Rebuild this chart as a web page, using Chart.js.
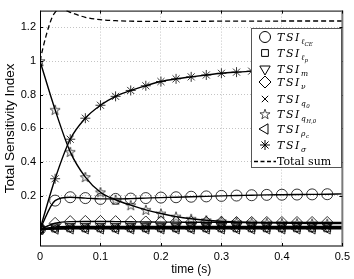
<!DOCTYPE html>
<html>
<head>
<meta charset="utf-8">
<script src="https://cdn.jsdelivr.net/npm/chart.js@4/dist/chart.umd.min.js"></script>
<style>
  html, body { margin: 0; padding: 0; background: #fff; }
  #wrap { width: 354px; height: 279px; }
</style>
</head>
<body>
<div id="wrap"><canvas id="tsiChart"></canvas></div>
<script>
// time samples (markers every 0.025 s)
var timeValues = [0, 0.025, 0.05, 0.075, 0.1, 0.125, 0.15, 0.175, 0.2, 0.225, 0.25,
  0.275, 0.3, 0.325, 0.35, 0.375, 0.4, 0.425, 0.45, 0.475, 0.5];

var tsiLce = [0, 0.17, 0.19, 0.185, 0.18, 0.18, 0.182, 0.185, 0.188, 0.19, 0.193,
  0.195, 0.198, 0.2, 0.202, 0.204, 0.205, 0.206, 0.207, 0.208, 0.21];
var tsiLp = [0, 0.004, 0.005, 0.005, 0.005, 0.005, 0.005, 0.005, 0.005, 0.005, 0.005,
  0.005, 0.005, 0.005, 0.005, 0.005, 0.005, 0.005, 0.005, 0.005, 0.005];
var tsiM = [0, 0.014, 0.016, 0.016, 0.016, 0.016, 0.016, 0.016, 0.016, 0.016, 0.016,
  0.016, 0.016, 0.016, 0.016, 0.016, 0.016, 0.016, 0.016, 0.016, 0.016];
var tsiNu = [0, 0.035, 0.045, 0.046, 0.046, 0.045, 0.044, 0.043, 0.042, 0.042, 0.041,
  0.041, 0.041, 0.04, 0.04, 0.04, 0.04, 0.04, 0.04, 0.04, 0.04];
var tsiQ0 = [0, 0.008, 0.01, 0.01, 0.01, 0.01, 0.01, 0.01, 0.01, 0.01, 0.01,
  0.01, 0.01, 0.01, 0.01, 0.01, 0.01, 0.01, 0.01, 0.01, 0.01];
var tsiQh0 = [1.0, 0.71, 0.46, 0.31, 0.22, 0.175, 0.143, 0.115, 0.093, 0.075, 0.062,
  0.053, 0.047, 0.043, 0.04, 0.038, 0.036, 0.035, 0.034, 0.033, 0.033];
var tsiRhoc = [0, 0.001, 0.002, 0.002, 0.002, 0.002, 0.002, 0.002, 0.002, 0.002, 0.002,
  0.002, 0.002, 0.002, 0.002, 0.002, 0.002, 0.002, 0.002, 0.002, 0.002];
var tsiSigma = [0, 0.3, 0.535, 0.66, 0.737, 0.79, 0.825, 0.853, 0.878, 0.894, 0.906,
  0.917, 0.927, 0.934, 0.94, 0.944, 0.948, 0.951, 0.953, 0.955, 0.957];

// total sum is sampled finer
var totalTime = [0, 0.005, 0.01, 0.015, 0.02, 0.025, 0.03, 0.035, 0.04, 0.05, 0.06,
  0.075, 0.1, 0.125, 0.15, 0.2, 0.25, 0.3, 0.35, 0.4, 0.45, 0.5];
var totalSum = [1.0, 1.08, 1.15, 1.21, 1.26, 1.29, 1.305, 1.31, 1.305, 1.29, 1.277,
  1.26, 1.246, 1.24, 1.237, 1.236, 1.236, 1.237, 1.237, 1.238, 1.238, 1.238];

var xTicks = [0, 0.1, 0.2, 0.3, 0.4, 0.5];
var yTicks = [0.2, 0.4, 0.6, 0.8, 1, 1.2];

// legend subscripts: [subscript, sub-subscript]
var legendSubs = [["\u2113", "CE"], ["\u2113", "p"], ["m"], ["\u03bd"], ["q", "0"],
  ["q", "H,0"], ["\u03c1", "c"], ["\u03c3"]];

// five-point star marker, drawn once into a small canvas
function makeStar(size) {
  var c = document.createElement("canvas");
  c.width = size; c.height = size;
  var g = c.getContext("2d");
  var cx = size / 2, cy = size / 2 + 0.5, R = size / 2 - 0.7, r = R * 0.4;
  g.beginPath();
  for (var i = 0; i < 10; i++) {
    var a = -Math.PI / 2 + i * Math.PI / 5;
    var rr = i % 2 ? r : R;
    g.lineTo(cx + rr * Math.cos(a), cy + rr * Math.sin(a));
  }
  g.closePath();
  g.lineWidth = 0.7;
  g.strokeStyle = "#000";
  g.stroke();
  return c;
}
var starImg = makeStar(12);

var seriesValues = [tsiLce, tsiLp, tsiM, tsiNu, tsiQ0, tsiQh0, tsiRhoc, tsiSigma];
var markers = [
  { style: "circle", r: 5.5, rot: 0 },
  { style: "rect", r: 4.8, rot: 0 },
  { style: "triangle", r: 6, rot: 180 },
  { style: "rectRot", r: 6, rot: 0 },
  { style: "crossRot", r: 4.5, rot: 0 },
  { style: starImg, r: 6, rot: 0 },
  { style: "triangle", r: 6, rot: -90 },
  { style: "star", r: 5, rot: 0 }
];

var datasets = seriesValues.map(function (vals, k) {
  var m = markers[k];
  return {
    data: vals.map(function (v, i) { return { x: timeValues[i], y: v }; }),
    borderColor: "#000",
    borderWidth: 1.4,
    cubicInterpolationMode: "monotone",
    pointStyle: m.style,
    rotation: m.rot,
    pointRadius: function (ctx) { return ctx.dataIndex < timeValues.length - 1 ? m.r : 0; },
    pointBorderColor: "#000",
    pointBackgroundColor: "rgba(0,0,0,0)",
    pointBorderWidth: 0.8,
    pointHoverRadius: 0
  };
});
datasets.push({
  data: totalSum.map(function (v, i) { return { x: totalTime[i], y: v }; }),
  borderColor: "#000",
  borderWidth: 1.3,
  borderDash: [5, 3],
  cubicInterpolationMode: "monotone",
  pointRadius: 0
});

var framePlugin = {
  id: "frame",
  afterDatasetsDraw: function (chart) {
    var ctx = chart.ctx, a = chart.chartArea;
    var xs = chart.scales.x, ys = chart.scales.y;
    ctx.save();
    // axes box
    ctx.strokeStyle = "#000";
    ctx.lineWidth = 1;
    ctx.beginPath();
    ctx.moveTo(a.left + 0.5, a.bottom);
    ctx.lineTo(a.left + 0.5, a.top + 0.5);
    ctx.lineTo(a.right, a.top + 0.5);
    ctx.stroke();
    ctx.strokeStyle = "#7a7a7a";
    ctx.lineWidth = 2;
    ctx.beginPath();
    ctx.moveTo(a.left, a.bottom);
    ctx.lineTo(a.right, a.bottom);
    ctx.lineTo(a.right, a.top);
    ctx.stroke();
    // inward tick marks
    ctx.strokeStyle = "#000";
    ctx.lineWidth = 1;
    ctx.beginPath();
    xTicks.forEach(function (t) {
      var px = Math.round(xs.getPixelForValue(t)) + 0.5;
      ctx.moveTo(px, a.bottom); ctx.lineTo(px, a.bottom - 3);
      ctx.moveTo(px, a.top); ctx.lineTo(px, a.top + 3);
    });
    yTicks.forEach(function (t) {
      var py = Math.round(ys.getPixelForValue(t)) + 0.5;
      ctx.moveTo(a.left, py); ctx.lineTo(a.left + 3, py);
      ctx.moveTo(a.right, py); ctx.lineTo(a.right - 3, py);
    });
    ctx.stroke();

    // legend box
    var bx = 251, by = 28, bw = 90, bh = 139;
    ctx.fillStyle = "#fff";
    ctx.fillRect(bx, by, bw, bh);
    ctx.strokeStyle = "#555";
    ctx.lineWidth = 1;
    ctx.strokeRect(bx + 0.5, by + 0.5, bw, bh);
    var rows = [37, 53, 69, 82, 99, 114, 129, 145];
    ctx.textBaseline = "alphabetic";
    rows.forEach(function (y, k) {
      var m = markers[k];
      ctx.strokeStyle = "#000";
      ctx.fillStyle = "rgba(0,0,0,0)";
      Chart.helpers.drawPoint(ctx, { pointStyle: m.style, rotation: m.rot, radius: m.r, borderWidth: 0.8 }, 265, y);
      ctx.fillStyle = "#000";
      ctx.font = "italic 11px 'DejaVu Serif'";
      var base = y + 4;
      ctx.fillText("T", 277, base);
      ctx.fillText("S", 286, base);
      ctx.fillText("I", 295, base);
      var sub = legendSubs[k];
      ctx.font = "italic 7.5px 'DejaVu Serif'";
      ctx.fillText(sub[0], 301, base + 2.5);
      if (sub[1]) {
        var w = ctx.measureText(sub[0]).width;
        ctx.font = "italic 5.5px 'DejaVu Serif'";
        ctx.fillText(sub[1], 301 + w + 0.5, base + 4.5);
      }
    });
    // total sum entry
    ctx.strokeStyle = "#000";
    ctx.lineWidth = 1.3;
    ctx.setLineDash([4, 2.5]);
    ctx.beginPath();
    ctx.moveTo(254, 161.5); ctx.lineTo(276, 161.5);
    ctx.stroke();
    ctx.setLineDash([]);
    ctx.fillStyle = "#000";
    ctx.font = "11px 'DejaVu Serif'";
    ctx.fillText("Total sum", 277, 165);
    ctx.restore();
  }
};

new Chart("tsiChart", {
  type: "line",
  data: { datasets: datasets },
  options: {
    responsive: true,
    maintainAspectRatio: false,
    animation: false,
    layout: { padding: { top: 8, right: 11, left: 0, bottom: 0 } },
    plugins: {
      legend: { display: false },
      tooltip: { enabled: false }
    },
    scales: {
      x: {
        type: "linear",
        min: 0,
        max: 0.5,
        afterBuildTicks: function (scale) {
          scale.ticks = xTicks.map(function (v) { return { value: v }; });
        },
        afterFit: function (scale) { scale.height = 33; },
        ticks: {
          color: "#000",
          padding: 4,
          maxRotation: 0,
          font: { family: "'Liberation Sans', Arial", size: 11 },
          callback: function (v) { return String(Math.round(v * 10) / 10); }
        },
        grid: { color: "#c4c4c4", lineWidth: 1, drawTicks: false },
        border: { display: false, dash: [1, 2] },
        title: {
          display: true,
          text: "time (s)",
          color: "#000",
          font: { family: "'Liberation Sans', Arial", size: 12 },
          padding: { top: 0, bottom: 2 }
        }
      },
      y: {
        type: "linear",
        min: -0.1,
        max: 1.3,
        afterBuildTicks: function (scale) {
          scale.ticks = yTicks.map(function (v) { return { value: v }; });
        },
        afterFit: function (scale) { scale.width = 40; },
        ticks: {
          color: "#000",
          padding: 4,
          font: { family: "'Liberation Sans', Arial", size: 11 },
          callback: function (v) { return String(Math.round(v * 10) / 10); }
        },
        grid: { color: "#c4c4c4", lineWidth: 1, drawTicks: false },
        border: { display: false, dash: [1, 2] },
        title: {
          display: true,
          text: "Total Sensitivity Index",
          color: "#000",
          font: { family: "'Liberation Sans', Arial", size: 13.5 },
          padding: { top: 2, bottom: 0 }
        }
      }
    }
  },
  plugins: [framePlugin]
});
</script>
</body>
</html>
